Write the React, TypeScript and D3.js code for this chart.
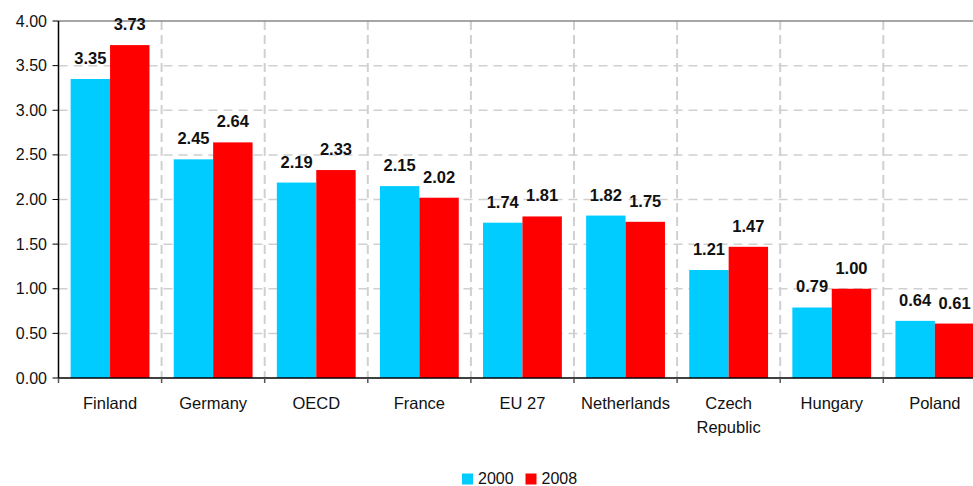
import React from "react";
import * as d3 from "d3";

const categories = ["Finland", "Germany", "OECD", "France", "EU 27", "Netherlands", "Czech\nRepublic", "Hungary", "Poland"];
const seriesNames = ["2000", "2008"];
const values2000 = [3.35, 2.45, 2.19, 2.15, 1.74, 1.82, 1.21, 0.79, 0.64];
const values2008 = [3.73, 2.64, 2.33, 2.02, 1.81, 1.75, 1.47, 1.0, 0.61];
const yTicks = [0, 0.5, 1, 1.5, 2, 2.5, 3, 3.5, 4];
const colors = ["#00CCFF", "#FF0000"];

const W = 973;
const H = 486;
const FONT = "'Liberation Sans', Arial, sans-serif";

export default function App() {
  const left = 58.5;
  const band = 103.1;
  const top = 21;
  const bottom = 378;

  const x = d3.scaleBand<string>().domain(categories).range([left, left + band * categories.length]).padding(0);
  const inner = d3.scaleBand<string>().domain(seriesNames).range([0, x.bandwidth()]).paddingInner(0).paddingOuter(0.308);
  const y = d3.scaleLinear().domain([0, 4]).range([bottom, top]);
  const series = [values2000, values2008];

  const boundaries = categories.map((c) => x(c)!).concat([left + band * categories.length]);

  return (
    <svg width={W} height={H} style={{ position: "absolute", left: 0, top: 0, background: "#fff" }} fontFamily={FONT}>
      {/* horizontal gridlines */}
      {yTicks.filter((t) => t > 0 && t < 4).map((t) => (
        <line key={"hg" + t} x1={left} x2={W} y1={y(t)} y2={y(t)} stroke="#d0d0d0" strokeWidth={1.5} strokeDasharray="9,6" />
      ))}
      {/* vertical gridlines between categories */}
      {boundaries.slice(1).map((b, i) => (
        <line key={"vg" + i} x1={b} x2={b} y1={top} y2={bottom} stroke="#d0d0d0" strokeWidth={2} strokeDasharray="9,5" />
      ))}
      {/* top border */}
      <line x1={left} x2={W} y1={top} y2={top} stroke="#888888" strokeWidth={1.5} />

      {/* bars */}
      {series.map((vals, si) =>
        vals.map((v, i) => {
          const bx = x(categories[i])! + inner(seriesNames[si])!;
          return (
            <rect key={`b${si}-${i}`} x={bx} y={y(v)} width={inner.bandwidth()} height={bottom - y(v)} fill={colors[si]} />
          );
        })
      )}

      {/* value labels */}
      {series.map((vals, si) =>
        vals.map((v, i) => {
          const cx = x(categories[i])! + inner(seriesNames[si])! + inner.bandwidth() / 2;
          return (
            <text key={`l${si}-${i}`} x={cx} y={y(v) - 15} textAnchor="middle" fontSize={16.5} fontWeight="bold" fill="#111">
              {v.toFixed(2)}
            </text>
          );
        })
      )}

      {/* axes */}
      <line x1={left} x2={left} y1={top} y2={bottom} stroke="#000" strokeWidth={1.5} />
      <line x1={left} x2={W} y1={bottom} y2={bottom} stroke="#000" strokeWidth={1.5} />
      {yTicks.map((t) => (
        <g key={"yt" + t}>
          <line x1={left - 6} x2={left} y1={y(t)} y2={y(t)} stroke="#000" strokeWidth={1} />
          <text x={47} y={y(t) + 5.5} textAnchor="end" fontSize={16} fill="#111">
            {t.toFixed(2)}
          </text>
        </g>
      ))}
      {boundaries.map((b, i) => (
        <line key={"xt" + i} x1={b} x2={b} y1={bottom} y2={bottom + 5} stroke="#555" strokeWidth={1.5} />
      ))}
      {categories.map((c) => {
        const lines = c.split("\n");
        return (
          <text key={"c" + c} x={x(c)! + x.bandwidth() / 2} y={409} textAnchor="middle" fontSize={16.5} fill="#111">
            {lines.map((ln, k) => (
              <tspan key={k} x={x(c)! + x.bandwidth() / 2} dy={k === 0 ? 0 : 23.5}>
                {ln}
              </tspan>
            ))}
          </text>
        );
      })}

      {/* legend */}
      {seriesNames.map((s, i) => {
        const lx = [462, 525.5][i];
        return (
          <g key={"lg" + s}>
            <rect x={lx} y={473.5} width={11} height={11} fill={colors[i]} />
            <text x={lx + 16} y={483.5} fontSize={16} fill="#111">
              {s}
            </text>
          </g>
        );
      })}
    </svg>
  );
}
